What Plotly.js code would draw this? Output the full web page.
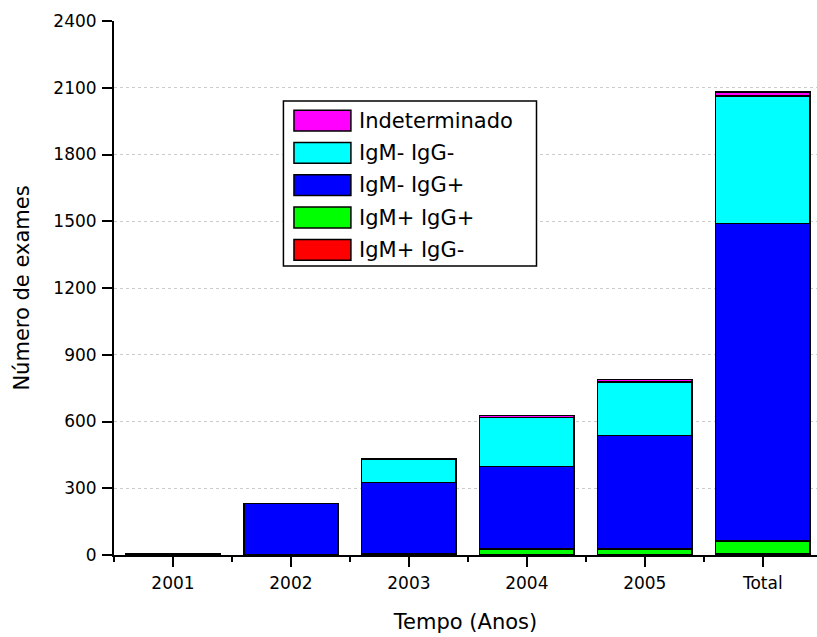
<!DOCTYPE html>
<html>
<head>
<meta charset="utf-8">
<script src="https://cdn.plot.ly/plotly-3.0.1.min.js"></script>
<style>html,body{margin:0;padding:0;background:#fff;}#chart{width:817px;height:637px;}</style>
</head>
<body>
<div id="chart"></div>
<script>
const categories = ["2001", "2002", "2003", "2004", "2005", "Total"];
const seriesNames = ["IgM+ IgG-", "IgM+ IgG+", "IgM- IgG+", "IgM- IgG-", "Indeterminado"];
const seriesColors = ["#ff0000", "#00ff00", "#0000ff", "#00ffff", "#ff00ff"];
const igmPosIggNeg = [1, 1, 1, 1, 1, 4];
const igmPosIggPos = [0, 2, 3, 27, 27, 59];
const igmNegIggPos = [2, 229, 321, 369, 508, 1428];
const igmNegIggNeg = [2, 0, 105, 222, 242, 573];
const indeterminado = [0, 0, 1, 9, 11, 17];
const yTicks = [0, 300, 600, 900, 1200, 1500, 1800, 2100, 2400];

const seriesValues = [igmPosIggNeg, igmPosIggPos, igmNegIggPos, igmNegIggNeg, indeterminado];
const xIdx = categories.map((c, i) => i);
const FONT = "DejaVu Sans, Verdana, sans-serif";

const traces = seriesValues.map((vals, k) => ({
  type: "bar",
  x: xIdx,
  y: vals,
  name: seriesNames[k],
  width: 0.8,
  marker: {color: seriesColors[k], line: {color: "#000", width: 1.5}},
  showlegend: false,
  hoverinfo: "y+name"
}));

// custom legend (top entry first)
const shapes = [];
const annotations = [];
const lx0 = 0.241, lx1 = 0.601; // paper coords of legend box
shapes.push({type: "rect", xref: "paper", yref: "paper", x0: lx0, x1: lx1, y0: 0.541, y1: 0.85,
  line: {color: "#000", width: 1.5}, fillcolor: "#fff", layer: "above"});
const order = [4, 3, 2, 1, 0];
order.forEach((k, j) => {
  const yc = 0.8135 - j * 0.0605;
  shapes.push({type: "rect", xref: "paper", yref: "paper", x0: 0.256, x1: 0.337,
    y0: yc - 0.0195, y1: yc + 0.0195, line: {color: "#000", width: 1.5},
    fillcolor: seriesColors[k], layer: "above"});
  annotations.push({xref: "paper", yref: "paper", x: 0.346, y: yc, xanchor: "left", yanchor: "middle",
    text: seriesNames[k], showarrow: false, font: {family: FONT, size: 21, color: "#000"}});
});

const layout = {
  width: 817, height: 637,
  margin: {l: 114, r: 0, t: 21, b: 82},
  paper_bgcolor: "#fff", plot_bgcolor: "#fff",
  barmode: "stack",
  font: {family: FONT, color: "#000"},
  xaxis: {
    range: [-0.5, 5.46],
    tickmode: "array", tickvals: xIdx, ticktext: categories,
    ticks: "outside", ticklen: 10, tickwidth: 2, tickcolor: "#000",
    minor: {tickmode: "linear", tick0: 0.5, dtick: 1, ticks: "outside", ticklen: 5, tickwidth: 2, tickcolor: "#000", showgrid: false},
    showline: true, linewidth: 2, linecolor: "#000",
    showgrid: false, zeroline: false,
    tickfont: {family: FONT, size: 17},
    ticklabelstandoff: 2,
    title: {text: "Tempo (Anos)", font: {family: FONT, size: 21}, standoff: 22}
  },
  yaxis: {
    range: [0, 2400],
    tickmode: "array", tickvals: yTicks,
    ticks: "outside", ticklen: 10, tickwidth: 2, tickcolor: "#000",
    showline: true, linewidth: 2, linecolor: "#000",
    showgrid: true, gridcolor: "#cccccc", griddash: "dot", gridwidth: 1,
    zeroline: false,
    tickfont: {family: FONT, size: 17},
    ticklabelstandoff: 2,
    title: {text: "Número de exames", font: {family: FONT, size: 21}, standoff: 18}
  },
  shapes: shapes,
  annotations: annotations
};

Plotly.newPlot("chart", traces, layout, {displayModeBar: false, staticPlot: true});
</script>
</body>
</html>
